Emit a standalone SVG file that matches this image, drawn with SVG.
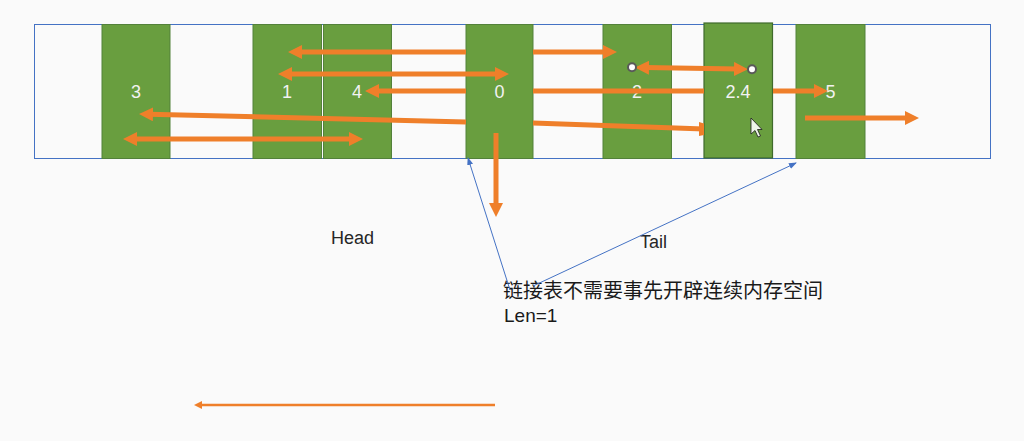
<svg xmlns="http://www.w3.org/2000/svg" width="1024" height="441" viewBox="0 0 1024 441">
<defs>
<style>
.col{fill:#699e3f;stroke:#53813a;stroke-width:1}
.lbl{font-family:"Liberation Sans",Arial,sans-serif;font-size:18px;fill:#f2f2f2;text-anchor:middle}
.or{stroke:#ef7f2a;stroke-width:5;fill:none}
.bl{stroke:#4472c4;stroke-width:1;fill:none}
.txt{font-family:"Liberation Sans","Noto Sans CJK SC",sans-serif;font-size:18px;fill:#262626}
</style>
<marker id="oa" markerUnits="userSpaceOnUse" markerWidth="14" markerHeight="14" refX="4" refY="7" orient="auto-start-reverse">
<path d="M0,0 L14,7 L0,14 z" fill="#ef7f2a"/>
</marker>
<marker id="oas" markerUnits="userSpaceOnUse" markerWidth="8" markerHeight="8" refX="2" refY="4" orient="auto">
<path d="M0,0 L8,4 L0,8 z" fill="#ef7f2a"/>
</marker>
<marker id="ba" markerUnits="userSpaceOnUse" markerWidth="8" markerHeight="8" refX="7" refY="3" orient="auto">
<path d="M0,0 L8,3 L0,6 z" fill="#4472c4"/>
</marker>
</defs>
<rect width="1024" height="441" fill="#fafafa"/>
<rect id="array" x="34.5" y="24.5" width="956" height="134" fill="#fafafa" stroke="#4472c4" stroke-width="1"/>
<g id="node-3"><rect class="col" x="102" y="24.5" width="68" height="134"/><text class="lbl" x="136" y="98">3</text></g>
<g id="node-1"><rect class="col" x="253" y="24.5" width="68.5" height="134"/><text class="lbl" x="287" y="98">1</text></g>
<g id="node-4"><rect class="col" x="323.5" y="24.5" width="68" height="134"/><text class="lbl" x="357" y="98">4</text></g>
<g id="node-0"><rect class="col" x="466" y="24.5" width="67" height="134"/><text class="lbl" x="499.5" y="98">0</text></g>
<g id="node-2"><rect class="col" x="603" y="24.5" width="68.5" height="134"/><text class="lbl" x="637" y="98">2</text></g>
<g id="node-2-4"><rect x="704" y="23" width="68.5" height="135" fill="#699e3f" stroke="#3f6a2c" stroke-width="1.2"/><text class="lbl" x="738" y="98">2.4</text></g>
<g id="node-5"><rect class="col" x="796" y="24.5" width="69" height="134"/><text class="lbl" x="830.5" y="98">5</text></g>
<g id="labels">
<text class="txt" x="331" y="244">Head</text>
<text class="txt" x="640" y="248">Tail</text>
<text x="503" y="298" style="font-family:'Noto Sans CJK SC',sans-serif;font-size:20px;fill:#1a1a1a">链接表不需要事先开辟连续内存空间</text>
<text x="504" y="322" style="font-family:'Liberation Sans',sans-serif;font-size:19px;fill:#1a1a1a">Len=1</text>
</g>
<g id="connectors">
<line class="or" x1="466" y1="52" x2="298" y2="52" marker-end="url(#oa)"/>
<line class="or" x1="288" y1="74" x2="499" y2="74" marker-start="url(#oa)" marker-end="url(#oa)"/>
<line class="or" x1="466" y1="91" x2="375" y2="91" marker-end="url(#oa)"/>
<line class="or" x1="466" y1="122" x2="149" y2="114.2" marker-end="url(#oa)"/>
<line class="or" x1="133" y1="139" x2="353" y2="139" marker-start="url(#oa)" marker-end="url(#oa)"/>
<line class="or" x1="496" y1="133" x2="496" y2="207" marker-end="url(#oa)"/>
<line class="or" x1="533" y1="52" x2="607" y2="52" marker-end="url(#oa)"/>
<line class="or" x1="645" y1="67.6" x2="738" y2="69" marker-start="url(#oa)" marker-end="url(#oa)"/>
<circle cx="632" cy="67.3" r="4" fill="#ffffff" stroke="#595959" stroke-width="2"/>
<circle cx="752" cy="69.3" r="4" fill="#ffffff" stroke="#595959" stroke-width="2"/>
<line class="or" x1="533" y1="91" x2="704" y2="91"/>
<line class="or" x1="773" y1="91" x2="818" y2="91" marker-end="url(#oa)"/>
<line class="or" x1="533" y1="123" x2="704" y2="129"/>
<polygon points="699,122 704,123.5 704,135 699,136" fill="#ef7f2a"/>
<line class="or" x1="805" y1="118" x2="909" y2="118" marker-end="url(#oa)"/>
<line class="bl" x1="510" y1="290" x2="468" y2="158" marker-end="url(#ba)"/>
<line class="bl" x1="533" y1="286" x2="796" y2="163" marker-end="url(#ba)"/>
<line x1="495" y1="405" x2="200" y2="405" stroke="#ef7f2a" stroke-width="2.5" marker-end="url(#oas)"/>
</g>
<g id="cursor">
<polygon points="751,118 751,134 755,130.5 758,137 760.5,136 757.5,129.5 762,129.5" fill="#eef5ea" stroke="#1a1a1a" stroke-width="0.8"/>
</g>
</svg>
